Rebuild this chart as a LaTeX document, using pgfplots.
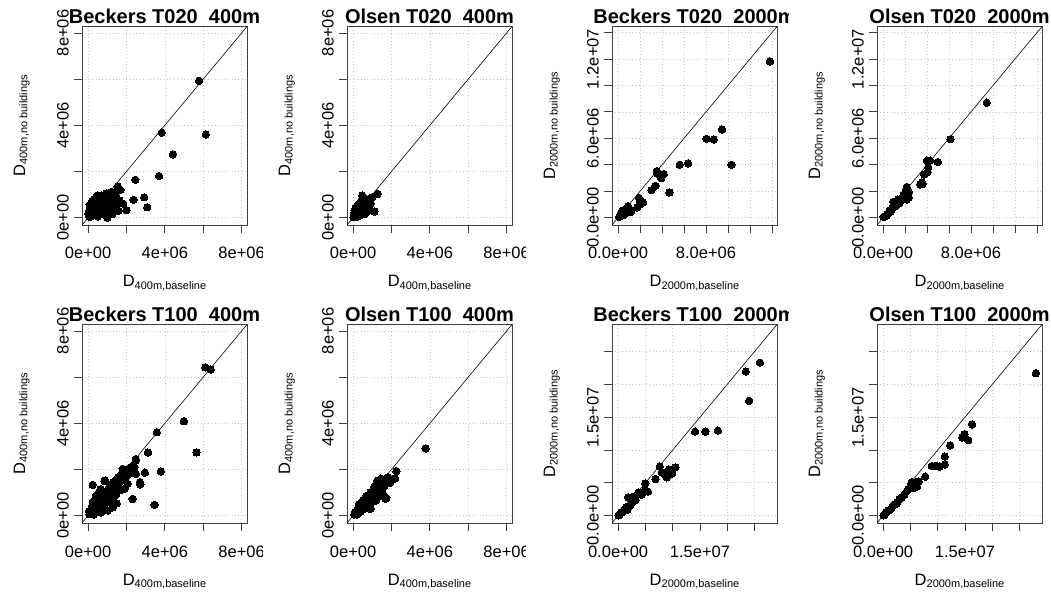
\documentclass[border=0pt]{standalone}
\usepackage{fontspec}
\setmainfont{Liberation Sans}
\usepackage{pgfplots}
\pgfplotsset{compat=1.18}

\newcommand{\tk}{\fontsize{16.5}{17}\selectfont}
\newcommand{\dlab}[1]{{\fontsize{16.5}{18}\selectfont D\raisebox{-2.5pt}{\fontsize{11}{12}\selectfont #1}}}

\pgfplotsset{
  rbase/.style={
    scale only axis, width=165pt, height=198.5pt,
    axis line style={black!75, line width=0.8pt},
    tick style={black!75, line width=0.8pt},
    tick align=outside, major tick length=8pt,
    xtick pos=left, ytick pos=left,
    grid=major, grid style={black!22, line width=0.7pt, dash pattern=on 0.8pt off 2.6pt},
    scaled ticks=false, clip mode=individual,
    ticklabel style={font=\tk},
    xticklabel style={anchor=base, yshift=-26pt},
    yticklabel style={rotate=90, anchor=base, yshift=5.5pt},
  },
  m400/.style={rbase,
    xmin=-0.32e6, xmax=8.28e6, ymin=-0.32e6, ymax=8.28e6,
    xtick={0,2e6,4e6,6e6,8e6}, ytick={0,2e6,4e6,6e6,8e6},
    xticklabels={0e+00,,4e+06,,8e+06}, yticklabels={0e+00,,4e+06,,8e+06}},
  m2k/.style={rbase,
    xmin=-0.556e6, xmax=14.46e6, ymin=-0.556e6, ymax=14.46e6,
    xtick={0,2e6,4e6,6e6,8e6,10e6,12e6,14e6}, ytick={0,2e6,4e6,6e6,8e6,10e6,12e6,14e6},
    xticklabels={0.0e+00,,,,8.0e+06,,,}, yticklabels={0.0e+00,,,6.0e+06,,,1.2e+07,}},
  m2kb/.style={rbase,
    xmin=-1.12e6, xmax=29.12e6, ymin=-1.12e6, ymax=29.12e6,
    xtick={0,5e6,10e6,15e6,20e6,25e6}, ytick={0,5e6,10e6,15e6,20e6,25e6},
    xticklabels={0.0e+00,,,1.5e+07,,}, yticklabels={0.0e+00,,,1.5e+07,,}},
  rpts/.style={only marks, mark=*, mark size=3.7pt, mark options={draw=black, fill=black, line width=0pt}},
  diag/.style={black, line width=0.6pt, no marks},
}

\newcommand{\texts}[2]{%
  \node[anchor=base, font=\bfseries\fontsize{20}{22}\selectfont] at ([yshift=3pt]axis description cs:0.5,1) {#1};
  \node[anchor=base] at ([yshift=-62pt]axis description cs:0.5,0) {\dlab{#2,baseline}};
  \node[rotate=90, anchor=base] at ([xshift=-57pt]axis description cs:0,0.5) {\dlab{#2,no buildings}};
}

\begin{document}
\begin{tikzpicture}
\useasboundingbox (0,0) rectangle (1051pt,597pt);

% ---- row 1 ----
\begin{scope}
\clip (0pt,298.5pt) rectangle (262.75pt,597pt);
\begin{axis}[m400, at={(82pt,372pt)}, anchor=south west]
\addplot[diag] coordinates {(-2e6,-2e6) (4e7,4e7)};
\addplot[rpts] coordinates {
(5.78e6,5.93e6) (3.84e6,3.68e6) (6.13e6,3.60e6) (4.42e6,2.74e6) (3.70e6,1.80e6) (2.46e6,1.64e6)
(2.37e6,0.77e6) (2.92e6,0.88e6) (3.08e6,0.45e6) (2.00e6,0.32e6) (1.54e6,1.35e6) (1.68e6,1.20e6)
(1.83e6,0.60e6) (1.63e6,0.74e6) (1.58e6,0.30e6) (1.28e6,0.16e6) (1.00e6,0.00e6)
(1.37e6,1.10e6) (1.23e6,1.10e6) (1.11e6,0.96e6) (1.19e6,1.10e6) (0.50e6,0.96e6) (0.68e6,0.96e6)
(0.45e6,0.93e6) (0.94e6,0.81e6) (1.37e6,0.67e6) (1.19e6,0.52e6) (0.76e6,0.67e6) (0.59e6,0.52e6)
(0.33e6,0.67e6) (0.24e6,0.45e6) (0.42e6,0.30e6) (0.16e6,0.23e6) (0.02e6,0.16e6) (0.07e6,0.04e6)
(0.68e6,0.16e6) (0.94e6,0.23e6) (1.11e6,0.30e6) (0.85e6,0.40e6) (0.55e6,0.35e6) (0.30e6,0.10e6)
(0.15e6,0.05e6) (0.05e6,0.10e6) (0.10e6,0.30e6) (0.20e6,0.55e6) (0.35e6,0.50e6) (0.50e6,0.60e6)
(0.62e6,0.75e6) (0.80e6,0.85e6) (0.90e6,0.60e6) (1.02e6,0.70e6) (1.05e6,0.45e6) (0.75e6,0.30e6)
(0.60e6,0.20e6) (0.40e6,0.15e6) (0.25e6,0.25e6) (0.12e6,0.40e6) (0.05e6,0.30e6) (0.30e6,0.80e6)
(0.45e6,0.70e6) (0.70e6,0.50e6) (0.85e6,0.15e6) (0.50e6,0.05e6) (0.95e6,1.05e6) (1.30e6,0.85e6)
(1.45e6,0.95e6) (0.20e6,0.70e6) (0.08e6,0.55e6) (0.35e6,0.35e6) (0.65e6,0.40e6) (0.85e6,0.60e6)
(1.25e6,0.40e6) (1.45e6,0.55e6)};
\texts{Beckers T020\ \ 400m}{400m}
\end{axis}
\end{scope}

\begin{scope}
\clip (262.75pt,298.5pt) rectangle (525.5pt,597pt);
\begin{axis}[m400, at={(347pt,372pt)}, anchor=south west]
\addplot[diag] coordinates {(-2e6,-2e6) (4e7,4e7)};
\addplot[rpts] coordinates {
(1.28e6,1.03e6) (0.47e6,0.96e6) (1.11e6,0.26e6) (0.99e6,0.88e6) (0.93e6,0.85e6) (0.85e6,0.78e6)
(0.80e6,0.70e6) (0.75e6,0.72e6) (0.70e6,0.62e6) (0.65e6,0.66e6) (0.60e6,0.58e6) (0.55e6,0.52e6)
(0.50e6,0.55e6) (0.45e6,0.45e6) (0.40e6,0.50e6) (0.35e6,0.40e6) (0.30e6,0.35e6) (0.25e6,0.30e6)
(0.20e6,0.25e6) (0.15e6,0.20e6) (0.10e6,0.15e6) (0.05e6,0.08e6) (0.02e6,0.02e6) (0.08e6,0.30e6)
(0.12e6,0.40e6) (0.20e6,0.50e6) (0.30e6,0.60e6) (0.40e6,0.70e6) (0.50e6,0.75e6) (0.60e6,0.80e6)
(0.70e6,0.80e6) (0.80e6,0.55e6) (0.75e6,0.45e6) (0.65e6,0.40e6) (0.55e6,0.30e6) (0.45e6,0.20e6)
(0.35e6,0.10e6) (0.25e6,0.05e6) (0.15e6,0.02e6) (0.60e6,0.15e6) (0.70e6,0.25e6) (0.85e6,0.35e6)
(0.90e6,0.60e6) (0.50e6,0.35e6) (0.40e6,0.25e6) (0.30e6,0.20e6) (0.20e6,0.10e6) (0.10e6,0.05e6)
(0.05e6,0.20e6) (0.35e6,0.55e6) (0.25e6,0.45e6)};
\texts{Olsen T020\ \ 400m}{400m}
\end{axis}
\end{scope}

\begin{scope}
\clip (525.5pt,298.5pt) rectangle (788.25pt,597pt);
\begin{axis}[m2k, at={(612pt,372pt)}, anchor=south west]
\addplot[diag] coordinates {(-2e6,-2e6) (4e7,4e7)};
\addplot[rpts] coordinates {
(13.82e6,11.82e6) (9.45e6,6.67e6) (8.04e6,5.96e6) (8.70e6,5.91e6) (10.31e6,4.00e6) (6.36e6,4.11e6)
(5.61e6,4.00e6) (3.52e6,3.52e6) (3.55e6,3.35e6) (4.15e6,3.30e6) (3.91e6,2.99e6) (3.40e6,2.41e6)
(3.04e6,2.08e6) (4.67e6,1.90e6) (1.91e6,1.49e6) (2.27e6,1.14e6) (1.94e6,1.00e6) (1.73e6,0.76e6)
(0.91e6,0.88e6) (1.15e6,0.43e6) (0.46e6,0.56e6) (0.30e6,0.30e6) (0.60e6,0.45e6) (0.75e6,0.60e6)
(0.20e6,0.10e6) (0.10e6,0.05e6) (0.50e6,0.20e6) (0.35e6,0.50e6) (0.80e6,0.40e6) (1.00e6,0.70e6)
(0.25e6,0.35e6)};
\texts{Beckers T020\ \ 2000m}{2000m}
\end{axis}
\end{scope}

\begin{scope}
\clip (788.25pt,298.5pt) rectangle (1051pt,597pt);
\begin{axis}[m2k, at={(877pt,372pt)}, anchor=south west]
\addplot[diag] coordinates {(-2e6,-2e6) (4e7,4e7)};
\addplot[rpts] coordinates {
(9.43e6,8.70e6) (6.13e6,5.93e6) (4.97e6,4.21e6) (4.27e6,4.31e6) (3.97e6,4.31e6) (4.10e6,3.80e6)
(4.05e6,3.45e6) (3.73e6,3.27e6) (3.52e6,2.66e6) (3.37e6,2.51e6) (3.60e6,2.55e6) (2.15e6,2.31e6)
(2.36e6,1.93e6) (2.15e6,1.37e6) (1.85e6,1.67e6) (2.30e6,1.50e6) (1.33e6,1.37e6) (0.94e6,1.20e6)
(1.50e6,1.10e6) (1.20e6,0.95e6) (1.00e6,0.80e6) (0.80e6,0.70e6) (0.70e6,0.45e6) (0.55e6,0.40e6)
(0.40e6,0.30e6) (0.30e6,0.15e6) (0.15e6,0.10e6) (0.05e6,0.05e6) (1.60e6,1.30e6) (1.10e6,1.05e6)
(0.60e6,0.55e6) (2.00e6,1.90e6) (1.70e6,1.45e6)};
\texts{Olsen T020\ \ 2000m}{2000m}
\end{axis}
\end{scope}

% ---- row 2 ----
\begin{scope}
\clip (0pt,0pt) rectangle (262.75pt,298.5pt);
\begin{axis}[m400, at={(82pt,74pt)}, anchor=south west]
\addplot[diag] coordinates {(-2e6,-2e6) (4e7,4e7)};
\addplot[rpts] coordinates {
(6.11e6,6.42e6) (6.39e6,6.33e6) (4.99e6,4.09e6) (3.58e6,3.61e6) (5.65e6,2.74e6) (3.12e6,2.73e6)
(3.79e6,1.91e6) (2.96e6,1.86e6) (3.46e6,0.47e6) (2.48e6,2.45e6) (2.49e6,2.39e6) (2.32e6,0.72e6)
(2.70e6,1.45e6) (2.72e6,1.35e6) (2.49e6,1.81e6) (2.23e6,2.10e6) (2.23e6,1.90e6) (1.80e6,2.03e6)
(1.80e6,1.67e6) (0.24e6,1.33e6) (0.88e6,1.52e6) (1.49e6,0.53e6)
(2.41e6,2.10e6) (2.15e6,1.81e6) (1.97e6,1.88e6) (1.71e6,1.52e6) (1.45e6,1.52e6) (1.37e6,1.23e6)
(1.02e6,0.94e6) (0.68e6,0.87e6) (0.50e6,0.65e6) (0.16e6,0.29e6) (0.07e6,0.07e6) (0.94e6,0.58e6)
(1.28e6,0.36e6) (1.02e6,0.22e6) (0.68e6,0.14e6) (1.89e6,1.16e6) (2.06e6,1.38e6) (0.85e6,1.49e6)
(1.37e6,1.29e6) (2.41e6,1.90e6) (2.27e6,2.12e6)
(0.10e6,0.15e6) (0.20e6,0.10e6) (0.30e6,0.40e6) (0.35e6,0.20e6) (0.45e6,0.50e6) (0.55e6,0.35e6)
(0.60e6,0.70e6) (0.70e6,0.55e6) (0.75e6,0.90e6) (0.80e6,0.70e6) (0.90e6,1.05e6) (0.95e6,0.80e6)
(1.05e6,1.15e6) (1.10e6,0.90e6) (1.15e6,1.30e6) (1.20e6,1.05e6) (1.30e6,1.45e6) (1.40e6,1.10e6)
(1.50e6,1.35e6) (1.55e6,1.65e6) (1.60e6,1.25e6) (1.65e6,1.45e6) (1.75e6,1.80e6) (1.85e6,1.55e6)
(1.95e6,1.65e6) (2.05e6,2.00e6) (0.25e6,0.60e6) (0.40e6,0.85e6) (0.55e6,1.00e6) (0.65e6,1.15e6)
(1.10e6,0.60e6) (1.25e6,0.75e6) (0.30e6,0.05e6) (0.50e6,0.25e6) (0.80e6,0.45e6) (0.20e6,0.40e6)
(0.05e6,0.20e6) (1.45e6,0.90e6) (1.70e6,1.10e6)};
\texts{Beckers T100\ \ 400m}{400m}
\end{axis}
\end{scope}

\begin{scope}
\clip (262.75pt,0pt) rectangle (525.5pt,298.5pt);
\begin{axis}[m400, at={(347pt,74pt)}, anchor=south west]
\addplot[diag] coordinates {(-2e6,-2e6) (4e7,4e7)};
\addplot[rpts] coordinates {
(3.78e6,2.91e6) (2.25e6,1.93e6) (2.18e6,1.61e6) (1.79e6,1.61e6) (1.91e6,1.42e6) (1.25e6,1.51e6)
(1.73e6,0.77e6) (1.82e6,1.67e6) (1.51e6,1.09e6) (1.68e6,0.73e6) (0.90e6,0.29e6)
(0.05e6,0.05e6) (0.10e6,0.15e6) (0.15e6,0.08e6) (0.20e6,0.25e6) (0.25e6,0.15e6) (0.30e6,0.35e6)
(0.35e6,0.22e6) (0.40e6,0.40e6) (0.45e6,0.30e6) (0.50e6,0.50e6) (0.55e6,0.38e6) (0.60e6,0.60e6)
(0.65e6,0.45e6) (0.70e6,0.68e6) (0.75e6,0.55e6) (0.80e6,0.78e6) (0.85e6,0.62e6) (0.90e6,0.88e6)
(0.95e6,0.72e6) (1.00e6,0.95e6) (1.05e6,0.80e6) (1.10e6,1.05e6) (1.15e6,0.90e6) (1.20e6,1.15e6)
(1.25e6,0.95e6) (1.30e6,1.25e6) (1.35e6,1.05e6) (1.40e6,1.30e6) (1.45e6,1.15e6) (1.50e6,1.35e6)
(1.55e6,1.20e6) (1.60e6,1.45e6) (1.20e6,0.65e6) (1.00e6,0.60e6) (0.80e6,0.45e6) (0.60e6,0.30e6)
(0.40e6,0.18e6) (0.70e6,0.85e6) (0.90e6,1.00e6) (1.10e6,1.25e6) (1.40e6,1.55e6) (1.65e6,1.30e6)
(1.75e6,1.40e6) (1.35e6,0.85e6) (0.20e6,0.05e6) (0.30e6,0.50e6) (0.50e6,0.65e6) (1.55e6,0.95e6)
(1.45e6,1.60e6) (1.30e6,1.50e6)};
\texts{Olsen T100\ \ 400m}{400m}
\end{axis}
\end{scope}

\begin{scope}
\clip (525.5pt,0pt) rectangle (788.25pt,298.5pt);
\begin{axis}[m2kb, at={(612pt,74pt)}, anchor=south west]
\addplot[diag] coordinates {(-2e6,-2e6) (4e7,4e7)};
\addplot[rpts] coordinates {
(26.0e6,23.3e6) (23.4e6,21.95e6) (24.0e6,17.5e6) (18.3e6,12.95e6) (16.0e6,12.8e6) (14.1e6,12.8e6)
(10.5e6,7.36e6) (9.3e6,7.05e6) (7.65e6,7.47e6) (8.93e6,5.84e6) (8.2e6,6.5e6) (8.7e6,6.2e6)
(6.87e6,5.58e6) (4.99e6,4.92e6) (5.47e6,3.65e6) (4.9e6,3.9e6) (3.77e6,3.55e6) (1.82e6,2.79e6)
(3.22e6,2.38e6) (2.31e6,1.72e6) (2.8e6,2.2e6) (1.5e6,1.3e6) (1.2e6,1.0e6) (0.9e6,0.6e6)
(0.6e6,0.5e6) (0.3e6,0.2e6) (0.1e6,0.05e6) (2.0e6,1.4e6) (1.7e6,0.9e6) (2.6e6,2.6e6)
(3.0e6,2.9e6) (4.3e6,3.2e6) (9.9e6,6.4e6) (8.0e6,6.6e6)};
\texts{Beckers T100\ \ 2000m}{2000m}
\end{axis}
\end{scope}

\begin{scope}
\clip (788.25pt,0pt) rectangle (1051pt,298.5pt);
\begin{axis}[m2kb, at={(877pt,74pt)}, anchor=south west]
\addplot[diag] coordinates {(-2e6,-2e6) (4e7,4e7)};
\addplot[rpts] coordinates {
(28.0e6,21.7e6) (16.3e6,13.9e6) (14.9e6,12.4e6) (14.5e6,11.9e6) (15.6e6,11.5e6) (12.3e6,10.7e6)
(11.3e6,9.0e6) (11.3e6,7.8e6) (10.3e6,7.47e6) (9.7e6,7.6e6) (8.93e6,7.56e6) (7.72e6,5.94e6)
(6.2e6,4.42e6) (5.9e6,4.6e6) (5.17e6,4.92e6) (5.6e6,4.2e6) (4.37e6,3.76e6) (4.9e6,4.3e6)
(3.9e6,3.2e6) (3.4e6,2.8e6) (3.0e6,2.5e6) (2.6e6,2.0e6) (2.2e6,1.7e6) (1.8e6,1.5e6)
(1.4e6,1.0e6) (1.0e6,0.8e6) (0.6e6,0.5e6) (0.3e6,0.2e6) (0.1e6,0.05e6) (2.4e6,1.8e6)
(4.6e6,4.0e6) (5.3e6,5.1e6) (6.5e6,5.2e6)};
\texts{Olsen T100\ \ 2000m}{2000m}
\end{axis}
\end{scope}
\end{tikzpicture}
\end{document}
